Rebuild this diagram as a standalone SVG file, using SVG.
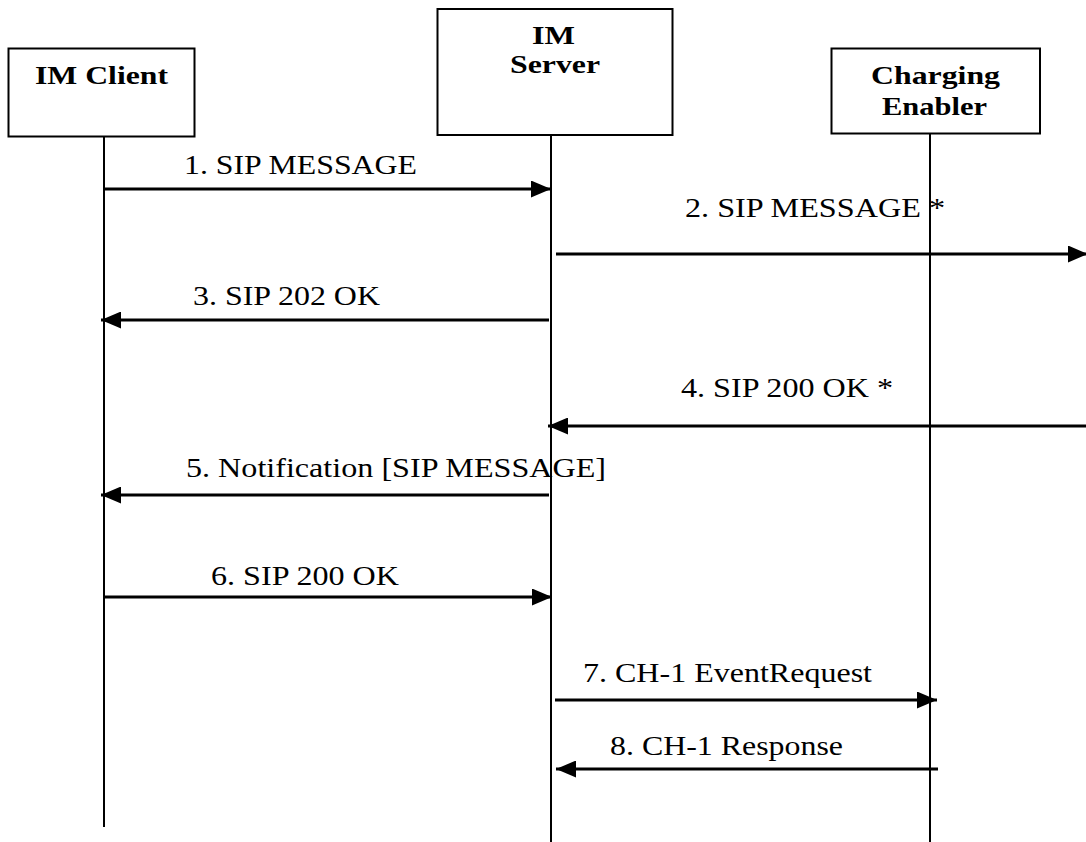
<svg xmlns="http://www.w3.org/2000/svg" width="1086" height="842" viewBox="0 0 1086 842">
<style>
.box{fill:#fff;stroke:#000;stroke-width:2}
.life{stroke:#000;stroke-width:2;fill:none}
.msg{stroke:#000;stroke-width:3;fill:none;marker-end:url(#ah)}
.title{font-family:"Liberation Serif","Times New Roman",serif;font-weight:bold;font-size:26px;fill:#000}
.lbl{font-family:"Liberation Serif","Times New Roman",serif;font-size:26.5px;fill:#000}
</style>
<defs>
<marker id="ah" markerUnits="userSpaceOnUse" markerWidth="20" markerHeight="17" refX="20" refY="8.5" orient="auto">
<path d="M0,0 L20,8.5 L0,17 z" fill="#000"/>
</marker>
</defs>
<rect width="1086" height="842" fill="#fff"/>
<g id="lifelines">
<line class="life" x1="104" y1="137" x2="104" y2="827"/>
<line class="life" x1="551" y1="135" x2="551" y2="842"/>
<line class="life" x1="930" y1="134" x2="930" y2="842"/>
</g>
<g id="node-im-client">
<rect class="box" x="8.5" y="48.5" width="186" height="88"/>
<text class="title" x="35" y="84" textLength="133" lengthAdjust="spacingAndGlyphs">IM Client</text>
</g>
<g id="node-im-server">
<rect class="box" x="437.5" y="9" width="235" height="126"/>
<text class="title" x="532" y="43.5" textLength="43" lengthAdjust="spacingAndGlyphs">IM</text>
<text class="title" x="510" y="73" textLength="90" lengthAdjust="spacingAndGlyphs">Server</text>
</g>
<g id="node-charging-enabler">
<rect class="box" x="831.5" y="48.5" width="208.5" height="85"/>
<text class="title" x="871" y="84" textLength="129" lengthAdjust="spacingAndGlyphs">Charging</text>
<text class="title" x="882" y="115" textLength="105" lengthAdjust="spacingAndGlyphs">Enabler</text>
</g>
<g id="connectors">
<line class="msg" x1="104" y1="189" x2="551" y2="189"/>
<line class="msg" x1="556" y1="254" x2="1088" y2="254"/>
<line class="msg" x1="549" y1="320" x2="101" y2="320"/>
<line class="msg" x1="1086" y1="426" x2="548" y2="426"/>
<line class="msg" x1="549" y1="495" x2="101" y2="495"/>
<line class="msg" x1="104" y1="597" x2="552" y2="597"/>
<line class="msg" x1="555" y1="700" x2="937" y2="700"/>
<line class="msg" x1="938" y1="769" x2="556" y2="769"/>
</g>
<g id="labels">
<text class="lbl" x="184" y="174" textLength="233" lengthAdjust="spacingAndGlyphs">1. SIP MESSAGE</text>
<text class="lbl" x="685" y="217" textLength="260" lengthAdjust="spacingAndGlyphs">2. SIP MESSAGE *</text>
<text class="lbl" x="193" y="305" textLength="187" lengthAdjust="spacingAndGlyphs">3. SIP 202 OK</text>
<text class="lbl" x="681" y="397" textLength="212" lengthAdjust="spacingAndGlyphs">4. SIP 200 OK *</text>
<text class="lbl" x="186" y="477" textLength="420" lengthAdjust="spacingAndGlyphs">5. Notification [SIP MESSAGE]</text>
<text class="lbl" x="211" y="585" textLength="188" lengthAdjust="spacingAndGlyphs">6. SIP 200 OK</text>
<text class="lbl" x="583" y="682" textLength="289" lengthAdjust="spacingAndGlyphs">7. CH-1 EventRequest</text>
<text class="lbl" x="610" y="755" textLength="233" lengthAdjust="spacingAndGlyphs">8. CH-1 Response</text>
</g>
</svg>
